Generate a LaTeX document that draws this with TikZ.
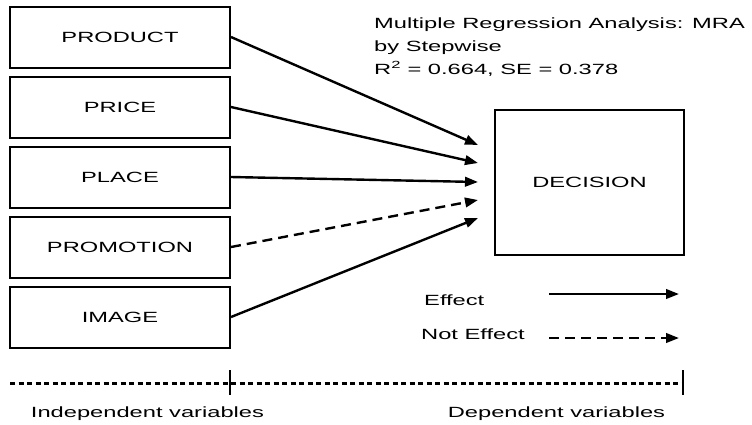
\documentclass[tikz,border=0pt]{standalone}
\usepackage{fontspec}
\setmainfont{Liberation Sans}[FakeStretch=1.6]
\usetikzlibrary{arrows.meta}
\tikzset{
  varbox/.style={draw, line width=2bp, minimum width=220bp, minimum height=61bp, inner sep=0pt},
  decbox/.style={draw, line width=2.2bp, minimum width=189bp, minimum height=145bp, inner sep=0pt},
  effarrow/.style={line width=2.4bp, -{Triangle[length=13bp,width=9.5bp]}},
  noeffarrow/.style={effarrow, dash pattern=on 10bp off 6bp},
  dotline/.style={line width=3bp, dash pattern=on 5bp off 3.5bp},
  tickline/.style={line width=2bp},
  txt/.style={inner sep=0pt, anchor=base west},
  ctxt/.style={inner sep=0pt, anchor=base}
}
\begin{document}
\begin{tikzpicture}[x=1bp,y=-1bp,font=\fontsize{14.8bp}{17bp}\selectfont]
\useasboundingbox (0,0) rectangle (752,424);
% independent variable boxes
\node[varbox] (product) at (120,37) {PRODUCT};
\node[varbox] (price) at (120,107) {PRICE};
\node[varbox] (place) at (120,177) {PLACE};
\node[varbox] (promotion) at (120,247) {PROMOTION};
\node[varbox] (image) at (120,317) {IMAGE};
% dependent variable box
\node[decbox] (decision) at (589.5,182.5) {DECISION};
% arrow targets
\coordinate (t1) at (478,145);
\coordinate (t2) at (478,163);
\coordinate (t3) at (478,182);
\coordinate (t4) at (478,200);
\coordinate (t5) at (478,218);
\draw[effarrow] (product.east) -- (t1);
\draw[effarrow] (price.east) -- (t2);
\draw[effarrow] (place.east) -- (t3);
\draw[noeffarrow] (promotion.east) -- (t4);
\draw[effarrow] (image.east) -- (t5);
% header text
\node[txt] (h1) at (374,28) {Multiple Regression Analysis: MRA};
\node[txt] (h2) at (374,51) {by Stepwise};
\node[txt] (h3) at (374,74) {R\textsuperscript{2} = 0.664, SE = 0.378};
% legend
\node[txt] (eff) at (424,305) {Effect};
\node[txt] (noeff) at (421,339) {Not Effect};
\coordinate (l1a) at (549,294);
\coordinate (l1b) at (679,294);
\coordinate (l2a) at (549,338);
\coordinate (l2b) at (679,338);
\draw[effarrow] (l1a) -- (l1b);
\draw[noeffarrow] (l2a) -- (l2b);
% bottom scale
\coordinate (d0) at (10,383);
\coordinate (d1) at (683,383);
\coordinate (k1a) at (230,370);
\coordinate (k1b) at (230,395);
\coordinate (k2a) at (683,370);
\coordinate (k2b) at (683,395);
\draw[dotline] (d0) -- (d1);
\draw[tickline] (k1a) -- (k1b);
\draw[tickline] (k2a) -- (k2b);
\node[ctxt] (indep) at (147.5,417) {Independent variables};
\node[ctxt] (dep) at (556.5,417) {Dependent variables};
\end{tikzpicture}
\end{document}
